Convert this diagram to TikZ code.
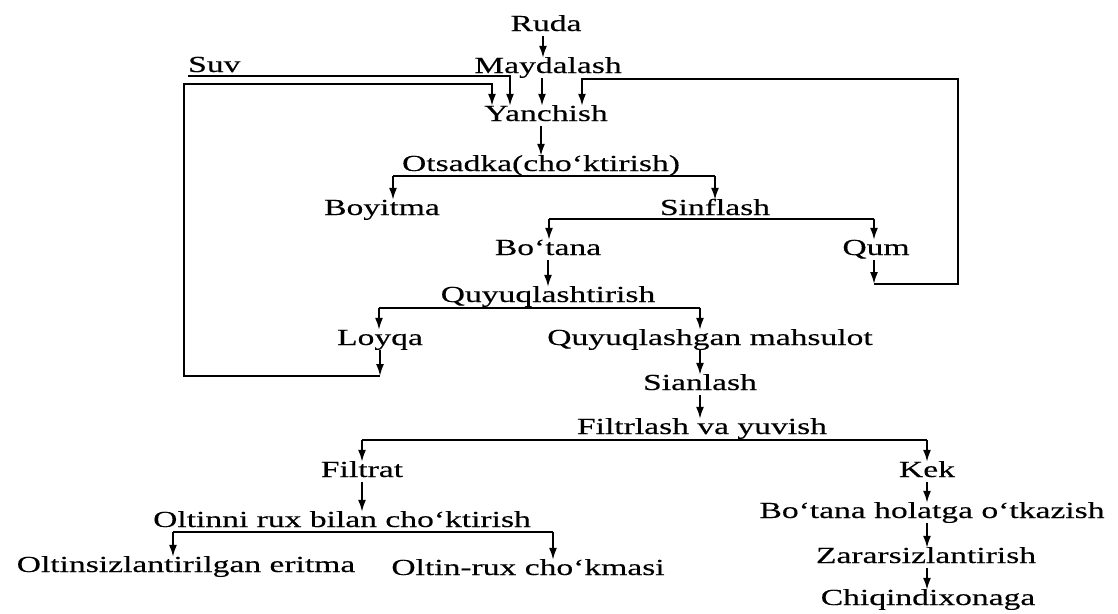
\documentclass[tikz,border=0pt]{standalone}
\usepackage{fontspec}
\setmainfont{Liberation Serif}[FakeStretch=1.46,FakeBold=0.3]
\usetikzlibrary{arrows.meta}
\begin{document}
\begin{tikzpicture}[x=1pt,y=-1pt,
  t/.style={inner sep=0pt, anchor=base, text height=15pt, text depth=5pt, font=\fontsize{23}{27}\selectfont},
  ln/.style={line width=1.8pt},
  arr/.style={ln, -{Latex[length=12pt,width=8pt]}}]
\useasboundingbox (0,0) rectangle (1118,613);
% nodes
\node[t] (ruda) at (546,31) {Ruda};
\node[t] (mayd) at (548,73) {Maydalash};
\node[t,anchor=base west] (suv) at (188,72) {Suv};
\node[t] (yan) at (546,121) {Yanchish};
\node[t] (ots) at (541,171) {Otsadka(cho‘ktirish)};
\node[t] (boy) at (382,215) {Boyitma};
\node[t] (sinf) at (715,215) {Sinflash};
\node[t] (bot) at (548,255) {Bo‘tana};
\node[t] (qum) at (876,255) {Qum};
\node[t] (quy) at (548,302) {Quyuqlashtirish};
\node[t] (loy) at (380,345) {Loyqa};
\node[t] (qm) at (710,345) {Quyuqlashgan\ mahsulot};
\node[t] (sian) at (700,390) {Sianlash};
\node[t] (filt) at (702,434) {Filtrlash\ va yuvish};
\node[t] (fr) at (362,477) {Filtrat};
\node[t] (kek) at (927,477) {Kek};
\node[t] (olt) at (342,527) {Oltinni rux bilan cho‘ktirish};
\node[t] (bhol) at (932,518) {Bo‘tana holatga\ o‘tkazish};
\node[t] (oe) at (186,572) {Oltinsizlantirilgan eritma};
\node[t] (orc) at (528,575) {Oltin-rux cho‘kmasi};
\node[t] (zar) at (926,563) {Zararsizlantirish};
\node[t] (chiq) at (928,605) {Chiqindixonaga};
% helper coordinates
\coordinate (lb) at (380,376);
\coordinate (lr) at (184,376);
\coordinate (lt) at (184,84);
\coordinate (qb) at (874,284);
\coordinate (qr) at (958,284);
\coordinate (qt) at (958,79);
\coordinate (b1l) at (393,176);
\coordinate (b1r) at (715,176);
\coordinate (b2l) at (549,219);
\coordinate (b2r) at (874,219);
\coordinate (b3l) at (379,308);
\coordinate (b3r) at (700,308);
\coordinate (b4l) at (362,440);
\coordinate (b4r) at (927,440);
\coordinate (b5l) at (173,532);
\coordinate (b5r) at (553,532);
% main chain
\draw[arr] ([xshift=-3pt]ruda.south) -- ([xshift=-3pt]ruda.south |- mayd.north);
\draw[arr] ([xshift=-6pt]mayd.south) -- ([xshift=-6pt]mayd.south |- yan.north);
\draw[arr] ([xshift=-5pt]yan.south) -- ([xshift=-5pt]yan.south |- ots.north);
% water
\draw[arr] ([yshift=1pt]suv.south west) -| ([xshift=-36pt]yan.north);
% Loyqa return
\draw[arr] (loy.south) -- (lb);
\draw[arr] (lb) -- (lr) -- (lt) -| ([xshift=-54pt]yan.north);
% Qum return
\draw[arr] (qum.south -| qb) -- (qb);
\draw[arr] (qb) -- (qr) -- (qt) -| ([xshift=36pt]yan.north);
% branch 1
\draw[ln] (b1l) -- (b1r);
\draw[arr] (b1l) -- (b1l |- boy.north);
\draw[arr] (b1r) -- (b1r |- sinf.north);
% branch 2
\draw[ln] (b2l) -- (b2r);
\draw[arr] (b2l) -- (b2l |- bot.north);
\draw[arr] (b2r) -- (b2r |- qum.north);
\draw[arr] (bot.south) -- (bot.south |- quy.north);
% branch 3
\draw[ln] (b3l) -- (b3r);
\draw[arr] (b3l) -- (b3l |- loy.north);
\draw[arr] (b3r) -- (b3r |- qm.north);
\draw[arr] (b3r |- qm.south) -- (b3r |- sian.north);
\draw[arr] (sian.south) -- (sian.south |- filt.north);
% branch 4
\draw[ln] (b4l) -- (b4r);
\draw[arr] (b4l) -- (b4l |- fr.north);
\draw[arr] (b4r) -- (b4r |- kek.north);
\draw[arr] (fr.south) -- (fr.south |- olt.north);
% branch 5
\draw[ln] (b5l) -- (b5r);
\draw[arr] (b5l) -- (b5l |- oe.north);
\draw[arr] (b5r) -- (b5r |- orc.north);
% Kek chain
\draw[arr] (kek.south) -- (kek.south |- bhol.north);
\draw[arr] (kek.south |- bhol.south) -- (kek.south |- zar.north);
\draw[arr] (kek.south |- zar.south) -- (kek.south |- chiq.north);
\end{tikzpicture}
\end{document}
